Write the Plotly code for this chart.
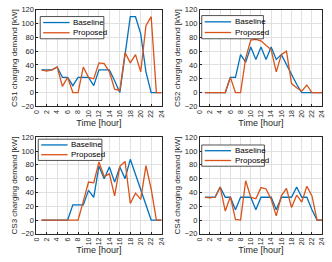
import plotly.graph_objects as go

hours = list(range(1, 25))

cs1_base = [33, 33, 33, 37, 22, 22, 10, 22, 22, 22, 10, 33, 33, 33, 17, 0, 55, 110, 110, 85, 30, 0, 0, 0]
cs1_prop = [33, 31, 33, 37, 9, 22, 0, 0, 37, 22, 20, 43, 42, 30, 5, 3, 58, 43, 55, 30, 97, 110, 0, 0]

cs2_base = [0, 0, 0, 0, 0, 22, 22, 55, 44, 66, 48, 66, 48, 66, 48, 55, 40, 25, 12, 0, 0, 0, 0, 0]
cs2_prop = [0, 0, 0, 0, 0, 22, 0, 0, 50, 76, 77, 75, 68, 62, 30, 55, 60, 13, 7, 2, 11, 0, 0, 0]

cs3_base = [0, 0, 0, 0, 0, 0, 22, 22, 22, 43, 33, 78, 60, 77, 55, 77, 60, 88, 66, 44, 22, 0, 0, 0]
cs3_prop = [0, 0, 0, 0, 0, 0, 0, 0, 27, 55, 54, 84, 63, 67, 35, 78, 85, 24, 39, 30, 79, 45, 0, 0]

cs4_base = [33, 33, 33, 48, 33, 33, 15, 33, 33, 33, 15, 33, 33, 33, 15, 33, 33, 33, 48, 33, 33, 15, 0, 0]
cs4_prop = [33, 32, 33, 48, 13, 34, 1, 0, 57, 33, 31, 47, 45, 30, 6, 35, 46, 18, 36, 26, 49, 35, 0, 0]

series_names = ["Baseline", "Proposed"]
series = [(cs1_base, cs1_prop), (cs2_base, cs2_prop), (cs3_base, cs3_prop), (cs4_base, cs4_prop)]
ylabels = ["CS1 charging demand [kW]", "CS2 charging demand [kW]",
           "CS3 charging demand [kW]", "CS4 charging demand [kW]"]
xticks = list(range(0, 25, 2))
yticks = list(range(-20, 121, 20))

W, H = 332, 262
COLORS = ["#0072BD", "#D95319"]
FONT = "Liberation Sans, Arial, sans-serif"
AX = "#262626"

# plot areas in pixels: (x0, x1, ytop, ybottom)
areas = [(33, 161, 6, 106), (200, 325, 6, 106), (33, 161, 138, 238), (200, 325, 138, 238)]
# legend boxes in pixels: (x0, x1, ytop, ybottom)
legboxes = [(37, 102, 13, 36), (202, 265, 12, 36), (35, 100, 140, 162), (202, 266, 146, 168)]

fig = go.Figure()
layout = dict(
    width=W, height=H, margin=dict(l=0, r=0, t=0, b=0),
    paper_bgcolor="white", plot_bgcolor="white",
    font=dict(family=FONT, size=8, color=AX),
    showlegend=False,
)
shapes = []
annotations = []

def px(x):
    return x / W

def py(y):
    return 1 - y / H

for i, ((base, prop), ylab, (x0, x1, yt, yb), (lx0, lx1, lyt, lyb)) in enumerate(
        zip(series, ylabels, areas, legboxes)):
    n = "" if i == 0 else str(i + 1)
    for vals, name, col in zip((base, prop), series_names, COLORS):
        fig.add_trace(go.Scatter(x=hours, y=vals, mode="lines", name=name,
                                 line=dict(color=col, width=1.3),
                                 xaxis="x" + n, yaxis="y" + n))
    layout["xaxis" + n] = dict(
        domain=[px(x0), px(x1)], range=[0, 24], tickvals=xticks,
        ticktext=[str(t) for t in xticks], tickangle=-90,
        showgrid=True, gridcolor="#e0e0e0", gridwidth=1,
        showline=True, linecolor=AX, linewidth=0.8, mirror=True,
        ticks="inside", ticklen=2, tickcolor=AX,
        zeroline=False, anchor="y" + n,
        tickfont=dict(size=7, color=AX),
        title=dict(text="Time [hour]", font=dict(size=9, color=AX), standoff=0),
    )
    layout["yaxis" + n] = dict(
        domain=[py(yb), py(yt)], range=[-20, 120], tickvals=yticks,
        showgrid=True, gridcolor="#e0e0e0", gridwidth=1,
        showline=True, linecolor=AX, linewidth=0.8, mirror=True,
        ticks="inside", ticklen=2, tickcolor=AX,
        zeroline=False, anchor="x" + n,
        tickfont=dict(size=7.5, color=AX),
        title=dict(text=ylab, font=dict(size=8, color=AX), standoff=2),
    )
    # manual legend (box, line samples, labels)
    shapes.append(dict(type="rect", xref="paper", yref="paper",
                       x0=px(lx0), x1=px(lx1), y0=py(lyb), y1=py(lyt),
                       line=dict(color=AX, width=0.8), fillcolor="white", layer="above"))
    hgt = lyb - lyt
    for k, (name, col) in enumerate(zip(series_names, COLORS)):
        yy = lyt + hgt * (0.27 + 0.46 * k)
        shapes.append(dict(type="line", xref="paper", yref="paper",
                           x0=px(lx0 + 3), x1=px(lx0 + 30), y0=py(yy), y1=py(yy),
                           line=dict(color=col, width=1.3), layer="above"))
        annotations.append(dict(text=name, xref="paper", yref="paper",
                                x=px(lx0 + 31.5), y=py(yy), xanchor="left", yanchor="middle",
                                showarrow=False, font=dict(size=8, color="black")))

layout["shapes"] = shapes
layout["annotations"] = annotations
fig.update_layout(**layout)
fig.write_html("out.html", config={"displayModeBar": False},
               post_script="document.body.style.margin='0px';document.body.style.padding='0px';")
